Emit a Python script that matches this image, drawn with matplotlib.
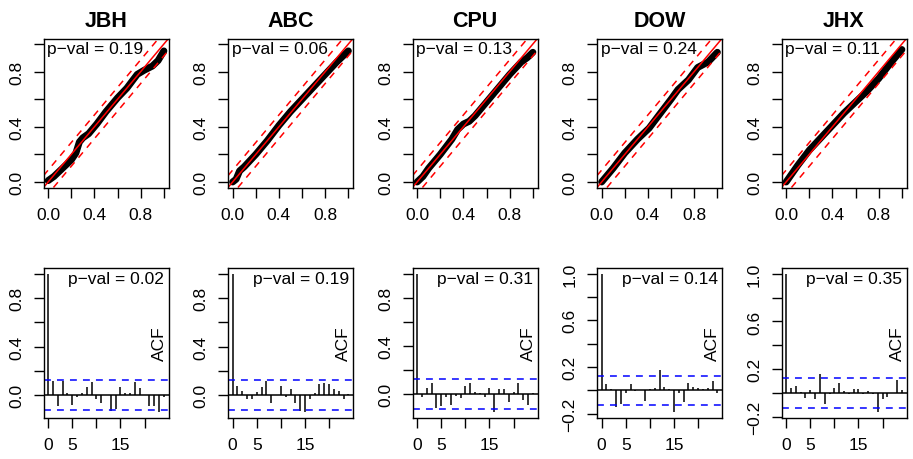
import numpy as np
import matplotlib.pyplot as plt

plt.rcParams['font.family'] = ['Liberation Sans', 'DejaVu Sans']

# series names
names = ['JBH', 'ABC', 'CPU', 'DOW', 'JHX']

# p-values shown in the panels
pval_unif = [0.19, 0.06, 0.13, 0.24, 0.11]
pval_acf = [0.02, 0.19, 0.31, 0.14, 0.35]

# uniform QQ curves (theoretical quantile, empirical)
qq_x = {
    'JBH': [0, 0.05, 0.1, 0.15, 0.2, 0.24, 0.27, 0.3, 0.35, 0.42, 0.5, 0.6, 0.68, 0.77, 0.83, 0.9, 0.95, 1.0],
    'ABC': [0, 0.03, 0.06, 0.1, 0.2, 0.3, 0.4, 0.5, 0.6, 0.7, 0.8, 0.9, 0.95, 1.0],
    'CPU': [0, 0.05, 0.1, 0.2, 0.3, 0.35, 0.4, 0.45, 0.5, 0.6, 0.7, 0.8, 0.9, 0.95, 1.0],
    'DOW': [0, 0.05, 0.1, 0.2, 0.31, 0.41, 0.5, 0.6, 0.66, 0.75, 0.83, 0.92, 1.0],
    'JHX': [0, 0.05, 0.1, 0.2, 0.3, 0.4, 0.5, 0.6, 0.7, 0.8, 0.9, 0.95, 1.0],
}
qq_y = {
    'JBH': [0.01, 0.04, 0.08, 0.12, 0.16, 0.21, 0.29, 0.32, 0.35, 0.42, 0.51, 0.61, 0.68, 0.78, 0.81, 0.84, 0.88, 0.95],
    'ABC': [0.0, 0.02, 0.08, 0.11, 0.2, 0.3, 0.41, 0.51, 0.6, 0.69, 0.78, 0.87, 0.91, 0.95],
    'CPU': [0.0, 0.04, 0.1, 0.2, 0.31, 0.38, 0.42, 0.44, 0.48, 0.58, 0.68, 0.78, 0.87, 0.9, 0.94],
    'DOW': [0.0, 0.05, 0.10, 0.21, 0.31, 0.39, 0.49, 0.6, 0.67, 0.74, 0.83, 0.87, 0.94],
    'JHX': [0.0, 0.06, 0.12, 0.23, 0.32, 0.41, 0.5, 0.58, 0.66, 0.75, 0.86, 0.91, 0.96],
}
ks_band = 0.086

# autocorrelations, lags 0..24
acf_vals = {
    'JBH': [1, 0.12, -0.09, 0.12, 0.02, -0.08, -0.01, 0.02, 0.07, 0.11, -0.03, -0.06, 0.0,
            -0.13, -0.11, 0.07, 0.02, 0.02, 0.11, 0.06, 0.0, -0.09, -0.09, -0.14, -0.01],
    'ABC': [1, 0.08, 0.04, -0.03, -0.03, 0.03, 0.07, 0.12, -0.06, 0.0, 0.08, -0.01, 0.05,
            -0.06, -0.13, -0.14, -0.03, 0.02, 0.09, 0.10, 0.09, 0.05, 0.04, -0.03, 0.01],
    'CPU': [1, -0.02, 0.05, 0.09, -0.11, -0.10, -0.02, -0.09, -0.01, -0.03, 0.07, 0.09, 0.02,
            0.01, -0.02, 0.05, -0.15, 0.04, 0.04, -0.06, 0.02, 0.09, -0.05, -0.09, 0.01],
    'DOW': [1, 0.05, 0.01, -0.14, -0.12, -0.02, 0.05, -0.005, 0.005, -0.09, 0.01, 0.02, 0.17,
            0.03, 0.01, -0.19, -0.02, -0.10, 0.06, 0.03, 0.02, 0.01, 0.02, 0.08, -0.02],
    'JHX': [1, 0.04, 0.06, 0.01, -0.04, 0.03, -0.05, 0.165, -0.09, -0.01, 0.045, 0.085, 0.02,
            -0.01, 0.035, 0.035, -0.01, 0.02, -0.01, -0.16, -0.05, -0.03, 0.0, 0.11, 0.03],
}
ci_bound = 0.124

W, H = 913, 460
fig = plt.figure(figsize=(W / 100, H / 100), dpi=100)

lefts = [43.5, 228, 412.5, 597, 781.5]
pw = 125
top_row = (39.5, 188.5)
bot_row = (269, 419)
dash = (0, (4.5, 4))


def rect(left, row):
    t, b = row
    return [left / W, 1 - b / H, pw / W, (b - t) / H]


def r_style(ax):
    for s in ax.spines.values():
        s.set_linewidth(1.0)
    ax.tick_params(direction='out', length=7, width=1.0, labelsize=12.5)
    ax.tick_params(axis='x', pad=7)
    ax.tick_params(axis='y', pad=7)


for i, nm in enumerate(names):
    # --- top: uniform QQ plot
    ax = fig.add_axes(rect(lefts[i], top_row))
    ax.plot(qq_x[nm], qq_y[nm], color='black', lw=5, solid_capstyle='round',
            solid_joinstyle='round')
    ax.axline((0, 0), slope=1, color='red', lw=1.1)
    ax.axline((0, ks_band), slope=1, color='red', lw=1.1, ls=dash)
    ax.axline((0, -ks_band), slope=1, color='red', lw=1.1, ls=dash)
    ax.set_xlim(-0.04, 1.04)
    ax.set_ylim(-0.04, 1.04)
    ticks = np.arange(0, 1.01, 0.2)
    labs = ['0.0', '', '0.4', '', '0.8', '']
    ax.set_xticks(ticks)
    ax.set_xticklabels(labs)
    ax.set_yticks(ticks)
    ax.set_yticklabels(labs, rotation=90, va='center')
    r_style(ax)
    ax.set_title(nm, fontsize=15.5, fontweight='bold', pad=9)
    ax.text(0.03, 0.98, f'p\u2212val = {pval_unif[i]:.2f}', transform=ax.transAxes,
            ha='left', va='top', fontsize=12.5)

    # --- bottom: ACF
    ax = fig.add_axes(rect(lefts[i], bot_row))
    acf = np.array(acf_vals[nm])
    lags = np.arange(len(acf))
    ax.vlines(lags, 0, acf, color='black', lw=1.1)
    ax.axhline(0, color='black', lw=1.1)
    ax.axhline(ci_bound, color='blue', lw=1.1, ls=dash)
    ax.axhline(-ci_bound, color='blue', lw=1.1, ls=dash)
    lo = min(acf.min(), -ci_bound)
    span = 1 - lo
    ax.set_ylim(lo - 0.04 * span, 1 + 0.04 * span)
    L = lags[-1]
    ax.set_xlim(-0.04 * L, 1.04 * L)
    ax.set_xticks([0, 5, 10, 15, 20])
    ax.set_xticklabels(['0', '5', '', '15', ''])
    yt = np.round(np.arange(-0.2, 1.01, 0.2), 1)
    yt = yt[yt >= lo - 0.04 * span]
    ylabs = [f'{v:.1f}'.replace('-', '\u2212') if k % 2 == 0 else '' for k, v in enumerate(yt)]
    ax.set_yticks(yt)
    ax.set_yticklabels(ylabs, rotation=90, va='center')
    r_style(ax)
    ax.text(0.965, 0.98, f'p\u2212val = {pval_acf[i]:.2f}', transform=ax.transAxes,
            ha='right', va='top', fontsize=12.5)
    ax.text(0.925, 0.5, 'ACF', transform=ax.transAxes, rotation=90,
            ha='center', va='center', fontsize=12.5)

fig.savefig('out.png', dpi=100)
